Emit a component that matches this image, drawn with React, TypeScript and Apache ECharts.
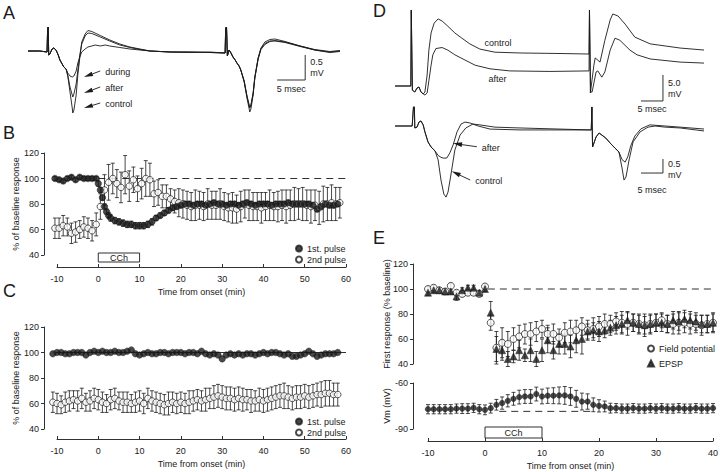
import React, { useEffect, useRef } from "react";
import * as echarts from "echarts";

const FONT = "'Liberation Sans', Arial, Helvetica, sans-serif";
const INK = "#1a1a1a";

// ---------- Panel A: extracellular traces [ms, mV] ----------
const A_CONTROL = [
  [0, 0], [2.1, 0], [3.4, -0.02], [3.5, 0.42], [3.6, 0.48], [3.7, -0.08], [3.9, -0.06], [4.3, 0.04], [4.6, 0.06],
  [5.0, 0.02], [5.4, -0.08], [5.7, -0.18], [6.1, -0.26], [6.4, -0.32], [6.8, -0.36], [7.1, -0.5], [7.5, -0.82],
  [7.9, -1.14], [8.0, -1.24], [8.2, -1.18], [8.6, -0.88], [8.9, -0.48], [9.3, -0.08], [9.6, 0.18], [10.2, 0.34],
  [10.7, 0.41], [11.4, 0.39], [12.9, 0.31], [14.6, 0.22], [16.4, 0.14], [18.2, 0.08], [20, 0.04], [21.8, 0],
  [25.4, -0.02], [28.9, -0.03], [32.5, -0.02], [35.2, -0.04], [35.3, 0.46], [35.45, 0.48], [35.6, -0.1],
  [35.9, 0.02], [36.25, -0.04], [36.6, -0.12], [37, -0.18], [37.3, -0.24], [37.7, -0.3], [38, -0.38],
  [38.6, -0.62], [39.1, -0.94], [39.5, -1.16], [39.6, -1.22], [39.8, -1.16], [40.2, -0.88], [40.5, -0.54],
  [41.1, -0.14], [41.6, 0.06], [42.3, 0.18], [43.2, 0.23], [44.1, 0.24], [45.9, 0.19], [48.6, 0.1],
  [51.2, 0.02], [53.9, -0.02], [55.7, 0],
];
const A_AFTER = [
  [0, 0], [2.1, 0], [3.4, -0.02], [3.5, 0.42], [3.6, 0.48], [3.7, -0.08], [3.9, -0.06], [4.3, 0.04], [4.6, 0.06],
  [5.0, 0.02], [5.4, -0.08], [5.7, -0.18], [6.1, -0.26], [6.4, -0.32], [6.8, -0.36], [7.1, -0.48], [7.5, -0.72],
  [7.9, -0.88], [8.0, -0.92], [8.2, -0.86], [8.6, -0.66], [8.9, -0.38], [9.3, -0.05], [9.6, 0.14], [10.2, 0.3],
  [10.7, 0.36], [11.4, 0.35], [12.9, 0.28], [14.6, 0.2], [16.4, 0.12], [18.2, 0.07], [20, 0.03], [21.8, 0],
  [25.4, -0.02], [28.9, -0.02], [32.5, -0.03], [35.2, -0.04], [35.3, 0.46], [35.45, 0.48], [35.6, -0.1],
  [35.9, 0.02], [36.25, -0.04], [36.6, -0.12], [37, -0.18], [37.3, -0.24], [37.7, -0.3], [38, -0.38],
  [38.6, -0.6], [39.1, -0.9], [39.5, -1.08], [39.6, -1.12], [39.8, -1.08], [40.2, -0.84], [40.5, -0.52],
  [41.1, -0.14], [41.6, 0.05], [42.3, 0.15], [43.2, 0.2], [44.1, 0.2], [45.9, 0.17], [48.6, 0.09],
  [51.2, 0.02], [53.9, -0.03], [55.7, -0.01],
];
const A_DURING = [
  [0, 0], [2.1, 0], [3.4, -0.02], [3.5, 0.42], [3.6, 0.48], [3.7, -0.08], [3.9, -0.06], [4.3, 0.04], [4.6, 0.06],
  [5.0, 0.02], [5.4, -0.08], [5.7, -0.18], [6.1, -0.26], [6.4, -0.32], [6.8, -0.36], [7.1, -0.44], [7.5, -0.5],
  [7.9, -0.52], [8.2, -0.5], [8.6, -0.4], [8.9, -0.24], [9.3, -0.1], [9.6, -0.02], [10.2, 0.04], [10.7, 0.08],
  [11.4, 0.1], [12, 0.12], [12.9, 0.1], [13.8, 0.12], [14.6, 0.1], [16.4, 0.07], [18.2, 0.04], [20, 0.02],
  [21.8, 0], [25.4, -0.02], [28.9, -0.02], [32.5, -0.03], [35.2, -0.04], [35.3, 0.46], [35.45, 0.48],
  [35.6, -0.1], [35.9, 0.02], [36.25, -0.04], [36.6, -0.12], [37, -0.18], [37.3, -0.24], [37.7, -0.3],
  [38, -0.38], [38.6, -0.6], [39.1, -0.9], [39.5, -1.1], [39.6, -1.14], [39.8, -1.1], [40.2, -0.86],
  [40.5, -0.54], [41.1, -0.16], [41.6, 0.03], [42.3, 0.13], [43.2, 0.19], [44.1, 0.21], [45.9, 0.18],
  [48.6, 0.1], [51.2, 0.03], [53.9, -0.01], [55.7, 0.01],
];
const A_ARROWS = [[12.9, -0.4, 10.0, -0.52], [12.9, -0.72, 10.0, -0.84], [12.9, -1.04, 10.0, -1.14]];
const A_ARROW_LABELS = ["during", "after", "control"];
const A_SCALEBAR = [[49.5, -0.58, 5, 0.5]];
const A_SCALE_TEXT = ["0.5\nmV", "5 msec"];

// ---------- Panel D: intracellular (top) and field (bottom) traces [ms, mV] ----------
const D_EPSP_CONTROL = [
  [0, 0], [3.6, 0], [3.7, 14.6], [3.85, 14.6], [3.95, -0.8], [4.5, -1.15], [5.0, -0.4], [5.45, -0.2],
  [5.9, -1.15], [6.4, -1.55], [6.8, -1.15], [7.3, 2.1], [7.7, 6.9], [8.2, 10.2], [8.9, 12.1], [9.8, 12.9],
  [10.7, 12.5], [12.0, 11.5], [13.6, 10.2], [15.2, 9.2], [17, 8.1], [19.3, 7.1], [22.7, 6.5], [28.4, 6.35],
  [37.5, 6.25], [44.1, 6.15], [44.2, 14.6], [44.35, 14.6], [44.4, -1.35], [45.2, 4.0], [45.5, 5.4],
  [46.6, 4.6], [47.7, 8.8], [48.9, 12.7], [49.5, 13.85], [50.7, 13.45], [52.3, 11.9], [54.5, 9.4],
  [58, 8.1], [64.8, 7.3], [70.4, 6.9],
];
const D_EPSP_AFTER = [
  [0, 0], [3.6, 0], [3.7, 14.6], [3.85, 14.6], [3.95, -0.8], [4.5, -1.15], [5.0, -0.4], [5.45, -0.2],
  [5.9, -1.15], [6.8, -1.75], [7.3, -1.35], [7.7, 1.0], [8.2, 4.0], [8.6, 6.0], [9.3, 7.2], [10.7, 7.4],
  [12.0, 6.9], [13.6, 6.0], [15.9, 5.0], [18.2, 4.0], [21.6, 3.3], [26.1, 2.9], [35.2, 2.8], [44.1, 2.9],
  [44.2, 14.6], [44.35, 14.6], [44.45, -1.15], [44.8, -1.15], [45.7, 2.7], [46.1, 2.9], [47.0, 1.7],
  [47.7, 2.7], [48.9, 6.9], [50, 9.2], [51.1, 8.8], [53.4, 6.9], [55, 6.0], [58, 5.2], [64.8, 4.6], [70.4, 4.4],
];
const D_EPSP_LABELS = ["control", "after"];
const D_EPSP_LABEL_POS = [[23.4, 8.3], [23.3, 1.35]];
const D_EPSP_SCALEBAR = [[60.9, -2.88, 5, 5]];
const D_EPSP_SCALE_TEXT = ["5.0\nmV", "5 msec"];

const D_FIELD_CONTROL = [
  [0, 0], [3.9, 0], [4.2, 0.68], [4.4, 0.68], [4.5, -0.07], [5, -0.04], [5.45, 0.14], [5.9, 0.18], [6.4, 0.04],
  [6.8, -0.21], [7.5, -0.57], [8.2, -0.75], [9.1, -0.89], [9.8, -1.21], [10.45, -1.93], [11.1, -2.43],
  [11.6, -2.54], [12.05, -2.36], [12.7, -1.75], [13.6, -0.86], [14.8, -0.32], [16.1, -0.07], [17.7, 0.07],
  [19.3, 0.04], [22.7, -0.04], [28.4, -0.07], [37.5, -0.11], [44.3, -0.14], [44.6, -0.14], [44.75, 0.68],
  [44.9, -0.75], [45.7, -0.39], [46.4, -0.25], [47.9, -0.43], [48.9, -0.61], [50, -0.79], [50.9, -0.93],
  [51.6, -1.5], [52.05, -1.93], [52.5, -1.82], [53.2, -1.21], [54.1, -0.57], [55.7, -0.21], [57.5, -0.04],
  [59.1, 0], [61.4, -0.04], [64.8, -0.07], [70.4, -0.18],
];
const D_FIELD_AFTER = [
  [0, 0], [3.9, 0], [4.2, 0.68], [4.4, 0.68], [4.5, -0.07], [5, -0.04], [5.45, 0.14], [5.9, 0.18], [6.4, 0.04],
  [6.8, -0.21], [7.5, -0.57], [8.2, -0.75], [9.1, -0.89], [9.8, -1.05], [10.45, -1.12], [11.1, -1.15],
  [11.8, -1.14], [12.5, -0.95], [13.2, -0.68], [14.1, -0.21], [15, 0.07], [15.9, 0.14], [17, 0.11],
  [18.9, 0], [21.6, -0.11], [28.4, -0.14], [37.5, -0.14], [44.3, -0.14], [44.6, -0.14], [44.75, 0.68],
  [44.9, -0.75], [45.7, -0.39], [46.4, -0.25], [47.9, -0.43], [48.9, -0.61], [50, -0.79], [50.9, -0.93],
  [51.6, -1.2], [52.3, -1.29], [52.9, -1.1], [53.6, -0.7], [54.5, -0.36], [55.9, -0.1], [57.9, 0.04],
  [61.4, 0.0], [64.8, -0.04], [70.4, -0.11],
];
const D_FIELD_ARROWS = [[18.6, -0.74, 13.2, -0.62], [17.1, -1.93, 12.9, -1.62]];
const D_FIELD_ARROW_LABELS = ["after", "control"];
const D_FIELD_SCALEBAR = [[60.9, -1.68, 5, 0.5]];
const D_FIELD_SCALE_TEXT = ["0.5\nmV", "5 msec"];

// ---------- Panel B: % of baseline, [time (min), value, s.e.m.] ----------
const B_FIRST = [
  [-10.5, 100, 1.5], [-9.5, 99, 1.5], [-8.5, 98, 1.5], [-7.5, 100, 1.5], [-6.5, 101, 1.5], [-5.5, 99, 1.5],
  [-4.5, 101, 1.5], [-3.5, 100, 1.5], [-2.5, 100, 1.5], [-1.5, 100, 1.5], [-0.5, 100, 1.5],
  [0, 96, 2], [0.5, 91, 2], [1, 85, 2], [1.5, 78, 2], [2, 74, 2], [2.5, 71, 2],
  [3, 69, 2.5], [4, 67, 2.5], [5, 66, 2.5], [6, 65, 2.5], [7, 64, 2.5], [8, 64, 2.5], [9, 63, 2.5], [10, 63, 2.5],
  [11, 63, 2.5], [12, 64, 2.5], [13, 66, 2.5], [14, 69, 2], [15, 71, 2], [16, 73, 2], [17, 75, 2], [18, 77, 2],
  [19, 78, 2], [20, 79, 2], [21, 80, 2], [22, 80, 2], [23, 79, 2], [24, 80, 2], [25, 80, 2], [26, 79, 2],
  [27, 80, 2], [28, 81, 2], [29, 80, 2], [30, 80, 2], [31, 79, 2], [32, 80, 2], [33, 80, 2], [34, 79, 2],
  [35, 80, 2], [36, 81, 2], [37, 80, 2], [38, 79, 2], [39, 80, 2], [40, 80, 2], [41, 80, 2], [42, 79, 2],
  [43, 80, 2], [44, 80, 2], [45, 80, 2], [46, 81, 2], [47, 80, 2], [48, 80, 2], [49, 80, 2], [50, 80, 2],
  [51, 80, 2], [52, 79, 2], [53, 76, 2], [54, 78, 2], [55, 80, 2], [56, 79, 2], [57, 79, 2], [58, 80, 2],
];
const B_SECOND = [
  [-10.5, 61, 8], [-9.5, 61, 8], [-8.5, 63, 8], [-7.5, 62, 7], [-6.5, 57, 8], [-5.5, 58, 8], [-4.5, 60, 7],
  [-3.5, 62, 8], [-2.5, 61, 8], [-1.5, 59, 8], [-0.5, 64, 9],
  [0.5, 78, 10], [1.5, 91, 12], [2.5, 97, 14], [3.5, 100, 12], [4.5, 96, 11], [5.5, 93, 12], [6.5, 103, 15],
  [7.5, 94, 12], [8.5, 99, 10], [9.5, 92, 10], [10.5, 96, 12], [11.5, 100, 14], [12.5, 99, 13], [13.5, 88, 10],
  [14.5, 89, 10], [15.5, 86, 9], [16.5, 86, 9], [17.5, 84, 8], [18.5, 82, 9],
  [19.5, 81, 11], [20.5, 80, 11], [21.5, 79, 11], [22.5, 78, 11], [23.5, 79, 12], [24.5, 79, 11], [25.5, 78, 11],
  [26.5, 80, 12], [27.5, 79, 11], [28.5, 79, 11], [29.5, 80, 12], [30.5, 78, 11], [31.5, 77, 11], [32.5, 77, 12],
  [33.5, 76, 11], [34.5, 78, 12], [35.5, 80, 11], [36.5, 79, 12], [37.5, 78, 11], [38.5, 78, 11], [39.5, 77, 12],
  [40.5, 78, 11], [41.5, 79, 12], [42.5, 78, 11], [43.5, 78, 12], [44.5, 79, 12], [45.5, 78, 13], [46.5, 79, 12],
  [47.5, 80, 13], [48.5, 80, 12], [49.5, 80, 13], [50.5, 79, 12], [51.5, 78, 13], [52.5, 79, 12], [53.5, 77, 13],
  [54.5, 80, 14], [55.5, 80, 13], [56.5, 81, 14], [57.5, 80, 13], [58.5, 81, 12],
];
const B_REF = [[0, 100], [60, 100]];
const B_CCH = [[0, 10]];

// ---------- Panel C ----------
const C_FIRST = [
  [-11, 99], [-10, 100], [-9, 100], [-8, 99], [-7, 99], [-6, 100], [-5, 100], [-4, 100], [-3, 98], [-2, 100], [-1, 101],
  [0, 100], [1, 101], [2, 100], [3, 100], [4, 101], [5, 100], [6, 100], [7, 101], [8, 102], [9, 99],
  [10, 98], [11, 99], [12, 100], [13, 99], [14, 99], [15, 100], [16, 100], [17, 99], [18, 100], [19, 100],
  [20, 100], [21, 99], [22, 100], [23, 100], [24, 99], [25, 101], [26, 99], [27, 98], [28, 99], [29, 98],
  [30, 95], [31, 98], [32, 99], [33, 98], [34, 99], [35, 98], [36, 99], [37, 99], [38, 98], [39, 99],
  [40, 100], [41, 99], [42, 100], [43, 100], [44, 99], [45, 98], [46, 99], [47, 97], [48, 97], [49, 98],
  [50, 99], [51, 101], [52, 99], [53, 97], [54, 98], [55, 99], [56, 99], [57, 99], [58, 100],
];
const C_SECOND = [
  [-11, 61, 8], [-10, 60, 8], [-9, 59, 7], [-8, 61, 8], [-7, 62, 8], [-6, 63, 7], [-5, 62, 8], [-4, 64, 8],
  [-3, 61, 7], [-2, 62, 8], [-1, 64, 8], [0, 63, 8], [1, 61, 8], [2, 60, 7], [3, 63, 8], [4, 64, 8], [5, 62, 7],
  [6, 61, 8], [7, 61, 8], [8, 60, 7], [9, 61, 8], [10, 62, 8], [11, 60, 8], [12, 64, 8], [13, 62, 8], [14, 61, 8],
  [15, 60, 8], [16, 59, 8], [17, 60, 9], [18, 61, 8], [19, 60, 8], [20, 61, 8], [21, 60, 8], [22, 61, 9],
  [23, 62, 8], [24, 63, 8], [25, 62, 8], [26, 63, 9], [27, 64, 8], [28, 65, 9], [29, 66, 9], [30, 65, 9],
  [31, 64, 9], [32, 64, 9], [33, 63, 9], [34, 64, 9], [35, 63, 9], [36, 63, 8], [37, 62, 9], [38, 62, 8],
  [39, 63, 9], [40, 62, 9], [41, 63, 9], [42, 64, 9], [43, 65, 9], [44, 66, 9], [45, 66, 10], [46, 65, 9],
  [47, 64, 9], [48, 65, 9], [49, 65, 9], [50, 66, 9], [51, 65, 9], [52, 66, 9], [53, 67, 9], [54, 67, 10],
  [55, 68, 10], [56, 68, 10], [57, 67, 9], [58, 67, 9],
];
const C_REF = [[-11.5, 100], [60, 100]];

// ---------- Panel E ----------
const E_FIELD = [
  [-10, 100, 2], [-9, 101, 2], [-8, 99, 2], [-7, 98, 2], [-6, 102.5, 2], [-5, 97, 2], [-4, 96, 2], [-3, 97, 2],
  [-2, 97, 2], [-1, 96, 2], [0, 102, 2], [1, 73, 6], [2, 53, 13], [3, 57, 12], [4, 56, 10], [5, 60, 9],
  [6, 62, 9], [7, 64, 8], [8, 64, 9], [9, 66, 8], [10, 68, 7], [11, 64, 7], [12, 64, 8], [13, 61, 7],
  [14, 65, 8], [15, 66, 9], [16, 67, 8], [17, 70, 7], [18, 67, 8], [19, 68, 9], [20, 70, 8], [21, 72, 8],
  [22, 72, 7], [23, 74, 7], [24, 73, 9], [25, 72, 9], [26, 73, 7], [27, 72, 8], [28, 71, 9], [29, 72, 8],
  [30, 73, 7], [31, 75, 6], [32, 72, 7], [33, 72, 8], [34, 73, 9], [35, 73, 8], [36, 72, 8], [37, 72, 7],
  [38, 71, 8], [39, 72, 7], [40, 73, 8],
];
const E_EPSP = [
  [-10, 97, 2], [-9, 99, 2], [-8, 99, 2], [-7, 98, 2], [-6, 98, 2], [-5, 94, 3], [-4, 99, 2], [-3, 101, 2],
  [-2, 101, 2], [-1, 97, 2], [0, 100, 2], [1, 81, 9], [2, 52, 10], [3, 51, 8], [4, 44, 6], [5, 46, 5],
  [6, 51, 8], [7, 47, 5], [8, 51, 9], [9, 44, 6], [10, 51, 9], [11, 59, 10], [12, 51, 7], [13, 56, 8],
  [14, 56, 8], [15, 54, 9], [16, 59, 10], [17, 60, 12], [18, 66, 6], [19, 67, 6], [20, 66, 8], [21, 67, 6],
  [22, 69, 6], [23, 71, 7], [24, 72, 7], [25, 75, 7], [26, 73, 7], [27, 72, 7], [28, 71, 7], [29, 72, 7],
  [30, 73, 7], [31, 73, 7], [32, 72, 7], [33, 75, 7], [34, 74, 7], [35, 76, 7], [36, 75, 7], [37, 74, 7],
  [38, 72, 7], [39, 72, 7], [40, 73, 7],
];
const E_VM = [
  [-10, -77.1, 3], [-9, -77.1, 3], [-8, -77.1, 3], [-7, -77.1, 3], [-6, -77.1, 3], [-5, -76.7, 3],
  [-4, -76.7, 3.2], [-3, -76.7, 3.2], [-2, -76.2, 3], [-1, -77.1, 3], [0, -77.5, 3.2], [1, -76.4, 3.2],
  [2, -74.2, 3.5], [3, -73.1, 4], [4, -71.6, 4], [5, -70.3, 4.2], [6, -69.2, 4.5], [7, -68.8, 4.5],
  [8, -68.8, 4.5], [9, -67.2, 4.5], [10, -68.8, 4.8], [11, -68.3, 5], [12, -68.3, 5.2], [13, -68.1, 5.5],
  [14, -68.1, 5.8], [15, -68.8, 5.8], [16, -70.3, 5.5], [17, -72.1, 5.5], [18, -72.1, 5], [19, -74.2, 4.5],
  [20, -74.9, 4], [21, -75.3, 3.5], [22, -76.4, 3.2], [23, -76.4, 3], [24, -76.7, 3], [25, -76.7, 3],
  [26, -76.4, 3], [27, -76.7, 3], [28, -76.7, 3], [29, -76.4, 3], [30, -76.7, 3], [31, -76.4, 3],
  [32, -76.7, 3], [33, -76.7, 3], [34, -76.4, 3], [35, -76.7, 3], [36, -76.7, 3], [37, -76.4, 3],
  [38, -76.7, 3], [39, -76.7, 3], [40, -76.4, 3],
];
const E_REF = [[0.5, 100], [40, 100]];
const E_VM_REF = [[2.5, -78.5], [19, -78.5]];
const E_CCH = [[0, 10]];

const PANEL_LETTERS = ["A", "B", "C", "D", "E"];

// ---------- helpers ----------
const txt = (size = 9) => ({ fill: INK, fontSize: size, fontFamily: FONT });

function errBar(cap: number, lw: number) {
  return (_p: any, api: any) => {
    const x = api.value(0);
    const lo = api.coord([x, api.value(1)]);
    const hi = api.coord([x, api.value(2)]);
    const style = { stroke: INK, lineWidth: lw, fill: "none" };
    return {
      type: "group",
      children: [
        { type: "line", shape: { x1: lo[0], y1: lo[1], x2: hi[0], y2: hi[1] }, style },
        { type: "line", shape: { x1: lo[0] - cap, y1: lo[1], x2: lo[0] + cap, y2: lo[1] }, style },
        { type: "line", shape: { x1: hi[0] - cap, y1: hi[1], x2: hi[0] + cap, y2: hi[1] }, style },
      ],
    };
  };
}

function errSeries(rows: number[][], xi: number, cap = 2, lw = 0.8) {
  return {
    type: "custom",
    xAxisIndex: xi,
    yAxisIndex: xi,
    silent: true,
    z: 2,
    renderItem: errBar(cap, lw),
    encode: { x: 0, y: [1, 2] },
    data: rows.map((r) => [r[0], r[1] - r[2], r[1] + r[2]]),
  };
}

function dots(name: string, rows: number[][], xi: number, filled: boolean, size: number, symbol = "circle", z = 3) {
  return {
    type: "scatter",
    name,
    xAxisIndex: xi,
    yAxisIndex: xi,
    silent: true,
    clip: false,
    z,
    symbol,
    symbolSize: size,
    itemStyle: filled
      ? { color: INK, borderColor: INK, borderWidth: 0.6 }
      : { color: "#ffffff", borderColor: INK, borderWidth: 0.9 },
    data: rows.map((r) => [r[0], r[1]]),
  };
}

function trace(data: number[][], xi: number) {
  return {
    type: "line",
    xAxisIndex: xi,
    yAxisIndex: xi,
    silent: true,
    clip: false,
    symbol: "none",
    showSymbol: false,
    z: 2,
    lineStyle: { color: INK, width: 0.9 },
    data,
  };
}

function refLine(data: number[][], xi: number, dashed: boolean) {
  return {
    type: "line",
    xAxisIndex: xi,
    yAxisIndex: xi,
    silent: true,
    clip: false,
    symbol: "none",
    z: 1,
    lineStyle: { color: INK, width: 0.9, type: dashed ? [7, 5] : "solid" },
    data,
  };
}

function arrows(data: number[][], labels: string[], xi: number) {
  return {
    type: "custom",
    xAxisIndex: xi,
    yAxisIndex: xi,
    silent: true,
    z: 5,
    data,
    renderItem: (p: any, api: any) => {
      const t = api.coord([api.value(0), api.value(1)]);
      const h = api.coord([api.value(2), api.value(3)]);
      const dx = h[0] - t[0];
      const dy = h[1] - t[1];
      const L = Math.hypot(dx, dy) || 1;
      const ux = dx / L;
      const uy = dy / L;
      const hl = 9;
      const hw = 2.3;
      const bx = h[0] - ux * hl;
      const by = h[1] - uy * hl;
      return {
        type: "group",
        children: [
          { type: "line", shape: { x1: t[0], y1: t[1], x2: bx, y2: by }, style: { stroke: INK, lineWidth: 0.9 } },
          {
            type: "polygon",
            shape: { points: [[h[0], h[1]], [bx - uy * hw, by + ux * hw], [bx + uy * hw, by - ux * hw]] },
            style: { fill: INK },
          },
          {
            type: "text",
            x: t[0] + 5,
            y: t[1] + 1,
            style: { ...txt(9), text: labels[p.dataIndex], align: "left", verticalAlign: "middle" },
          },
        ],
      };
    },
  };
}

function labelsAt(data: number[][], labels: string[], xi: number) {
  return {
    type: "custom",
    xAxisIndex: xi,
    yAxisIndex: xi,
    silent: true,
    z: 5,
    data,
    renderItem: (p: any, api: any) => {
      const c = api.coord([api.value(0), api.value(1)]);
      return {
        type: "text",
        x: c[0],
        y: c[1],
        style: { ...txt(9), text: labels[p.dataIndex], align: "center", verticalAlign: "middle" },
      };
    },
  };
}

function scaleBar(data: number[][], texts: string[], xi: number, vOff: number, hOff: number) {
  return {
    type: "custom",
    xAxisIndex: xi,
    yAxisIndex: xi,
    silent: true,
    z: 5,
    data,
    renderItem: (_p: any, api: any) => {
      const xc = api.value(0);
      const yc = api.value(1);
      const dx = api.value(2);
      const dy = api.value(3);
      const p0 = api.coord([xc - dx, yc]);
      const p1 = api.coord([xc, yc]);
      const p2 = api.coord([xc, yc + dy]);
      return {
        type: "group",
        children: [
          { type: "polyline", shape: { points: [p0, p1, p2] }, style: { stroke: INK, lineWidth: 0.9, fill: "none" } },
          {
            type: "text",
            x: p1[0] + 5,
            y: p2[1] + vOff,
            style: { ...txt(9), text: texts[0], lineHeight: 11, align: "left", verticalAlign: "top" },
          },
          {
            type: "text",
            x: (p0[0] + p1[0]) / 2,
            y: p1[1] + hOff,
            style: { ...txt(9), text: texts[1], align: "center", verticalAlign: "top" },
          },
        ],
      };
    },
  };
}

function cchBox(data: number[][], xi: number, yBase: number, off: number, h: number) {
  return {
    type: "custom",
    xAxisIndex: xi,
    yAxisIndex: xi,
    silent: true,
    z: 5,
    data,
    renderItem: (_p: any, api: any) => {
      const a = api.coord([api.value(0), yBase]);
      const b = api.coord([api.value(1), yBase]);
      const y = a[1] + off;
      return {
        type: "group",
        children: [
          {
            type: "rect",
            shape: { x: a[0], y, width: b[0] - a[0], height: h },
            style: { fill: "#fff", stroke: INK, lineWidth: 0.9 },
          },
          {
            type: "text",
            x: (a[0] + b[0]) / 2,
            y: y + h / 2 + 0.5,
            style: { ...txt(9), text: "CCh", align: "center", verticalAlign: "middle" },
          },
        ],
      };
    },
  };
}

const hiddenAxis = (gridIndex: number, min: number, max: number) => ({
  gridIndex,
  type: "value",
  min,
  max,
  show: false,
  splitLine: { show: false },
});

const axisLine = { show: true, onZero: false, lineStyle: { color: INK, width: 0.9 } };

const xAxisVis = (gridIndex: number, min: number, max: number, offset: number, name: string) => ({
  gridIndex,
  type: "value",
  min,
  max,
  interval: 10,
  offset,
  axisLine,
  axisTick: { show: true, inside: true, length: 3, lineStyle: { color: INK, width: 0.9 } },
  axisLabel: { ...txt(9), color: INK, margin: 7, showMinLabel: true, showMaxLabel: true },
  splitLine: { show: false },
  name,
  nameLocation: "middle",
  nameGap: 20,
  nameMoveOverlap: false,
  nameTextStyle: { color: INK, fontSize: 9, fontFamily: FONT },
});

const yAxisVis = (gridIndex: number, min: number, max: number, interval: number, offset: number, name: string, nameGap: number) => ({
  gridIndex,
  type: "value",
  min,
  max,
  interval,
  offset,
  axisLine,
  axisTick: { show: true, inside: false, length: 3, lineStyle: { color: INK, width: 0.9 } },
  axisLabel: { ...txt(9), color: INK, margin: 5, showMinLabel: true, showMaxLabel: true },
  splitLine: { show: false },
  name,
  nameLocation: "middle",
  nameGap,
  nameMoveOverlap: false,
  nameTextStyle: { color: INK, fontSize: 9, fontFamily: FONT },
});

const legendBase = {
  orient: "vertical",
  padding: 0,
  itemWidth: 6,
  itemHeight: 6,
  selectedMode: false,
  textStyle: { ...txt(9), color: INK },
};

function buildOption() {
  const letterPos = [[3, 4], [3, 124], [3, 282], [373, 2], [373, 229]];
  return {
    animation: false,
    backgroundColor: "#ffffff",
    textStyle: { fontFamily: FONT, color: INK },
    grid: [
      { left: 28, top: 20, width: 313.6, height: 105, outerBoundsMode: "none" },
      { left: 57, top: 153, width: 289, height: 102, outerBoundsMode: "none" },
      { left: 57, top: 327, width: 289, height: 102, outerBoundsMode: "none" },
      { left: 395, top: 8, width: 308, height: 99.84, outerBoundsMode: "none" },
      { left: 395, top: 100, width: 308, height: 100, outerBoundsMode: "none" },
      { left: 428, top: 264, width: 285, height: 100, outerBoundsMode: "none" },
      { left: 428, top: 383, width: 285, height: 46, outerBoundsMode: "none" },
    ],
    xAxis: [
      hiddenAxis(0, 0, 56),
      xAxisVis(1, -10, 60, 12, "Time from onset (min)"),
      xAxisVis(2, -10, 60, 10, "Time from onset (min)"),
      hiddenAxis(3, 0, 70),
      hiddenAxis(4, 0, 70),
      hiddenAxis(5, -10, 40),
      xAxisVis(6, -10, 40, 12, "Time from onset (min)"),
    ],
    yAxis: [
      hiddenAxis(0, -1.48, 0.62),
      yAxisVis(1, 40, 120, 20, 13, "% of baseline response", 24),
      yAxisVis(2, 40, 120, 20, 13, "% of baseline response", 24),
      hiddenAxis(3, -4.2, 15),
      hiddenAxis(4, -2.643, 0.929),
      yAxisVis(5, 40, 120, 20, 15, "First response (% baseline)", 22),
      yAxisVis(6, -90, -60, 30, 15, "Vm (mV)", 22),
    ],
    legend: [
      { ...legendBase, data: ["1st. pulse", "2nd pulse"], left: 295, top: 244, itemGap: 2 },
      { ...legendBase, data: ["1st. pulse", "2nd pulse"], left: 295, top: 417, itemGap: 2 },
      { ...legendBase, data: ["Field potential", "EPSP"], left: 647, top: 344, itemGap: 6 },
    ],
    graphic: PANEL_LETTERS.map((l, i) => ({
      type: "text",
      left: letterPos[i][0],
      top: letterPos[i][1],
      style: { text: l, fill: INK, fontSize: 18, fontFamily: FONT },
    })),
    series: [
      // A
      trace(A_CONTROL, 0),
      trace(A_AFTER, 0),
      trace(A_DURING, 0),
      arrows(A_ARROWS, A_ARROW_LABELS, 0),
      scaleBar(A_SCALEBAR, A_SCALE_TEXT, 0, 1, 4),
      // B
      refLine(B_REF, 1, true),
      errSeries(B_SECOND, 1),
      errSeries(B_FIRST, 1),
      dots("2nd pulse", B_SECOND, 1, false, 6.5, "circle", 3),
      dots("1st. pulse", B_FIRST, 1, true, 6.5, "circle", 4),
      cchBox(B_CCH, 1, 40, -2, 9),
      // C
      refLine(C_REF, 2, false),
      errSeries(C_SECOND, 2),
      dots("2nd pulse", C_SECOND, 2, false, 6.5, "circle", 3),
      dots("1st. pulse", C_FIRST, 2, true, 6.5, "circle", 4),
      // D
      trace(D_EPSP_CONTROL, 3),
      trace(D_EPSP_AFTER, 3),
      labelsAt(D_EPSP_LABEL_POS, D_EPSP_LABELS, 3),
      scaleBar(D_EPSP_SCALEBAR, D_EPSP_SCALE_TEXT, 3, 3, 4),
      trace(D_FIELD_CONTROL, 4),
      trace(D_FIELD_AFTER, 4),
      arrows(D_FIELD_ARROWS, D_FIELD_ARROW_LABELS, 4),
      scaleBar(D_FIELD_SCALEBAR, D_FIELD_SCALE_TEXT, 4, -1, 12),
      // E
      refLine(E_REF, 5, true),
      errSeries(E_FIELD, 5),
      errSeries(E_EPSP, 5),
      dots("Field potential", E_FIELD, 5, false, 7, "circle", 3),
      dots("EPSP", E_EPSP, 5, true, 7, "triangle", 4),
      refLine(E_VM_REF, 6, true),
      errSeries(E_VM, 6),
      dots("Vm", E_VM, 6, true, 5.5, "circle", 4),
      cchBox(E_CCH, 6, -90, -2, 11),
    ],
  };
}

export default function App() {
  const ref = useRef<HTMLDivElement>(null);
  useEffect(() => {
    if (!ref.current) return;
    const chart = echarts.init(ref.current, null, { renderer: "svg" });
    chart.setOption(buildOption() as any);
    return () => chart.dispose();
  }, []);
  return (
    <div
      ref={ref}
      style={{ position: "fixed", left: 0, top: 0, width: 720, height: 472, background: "#ffffff" }}
    />
  );
}
